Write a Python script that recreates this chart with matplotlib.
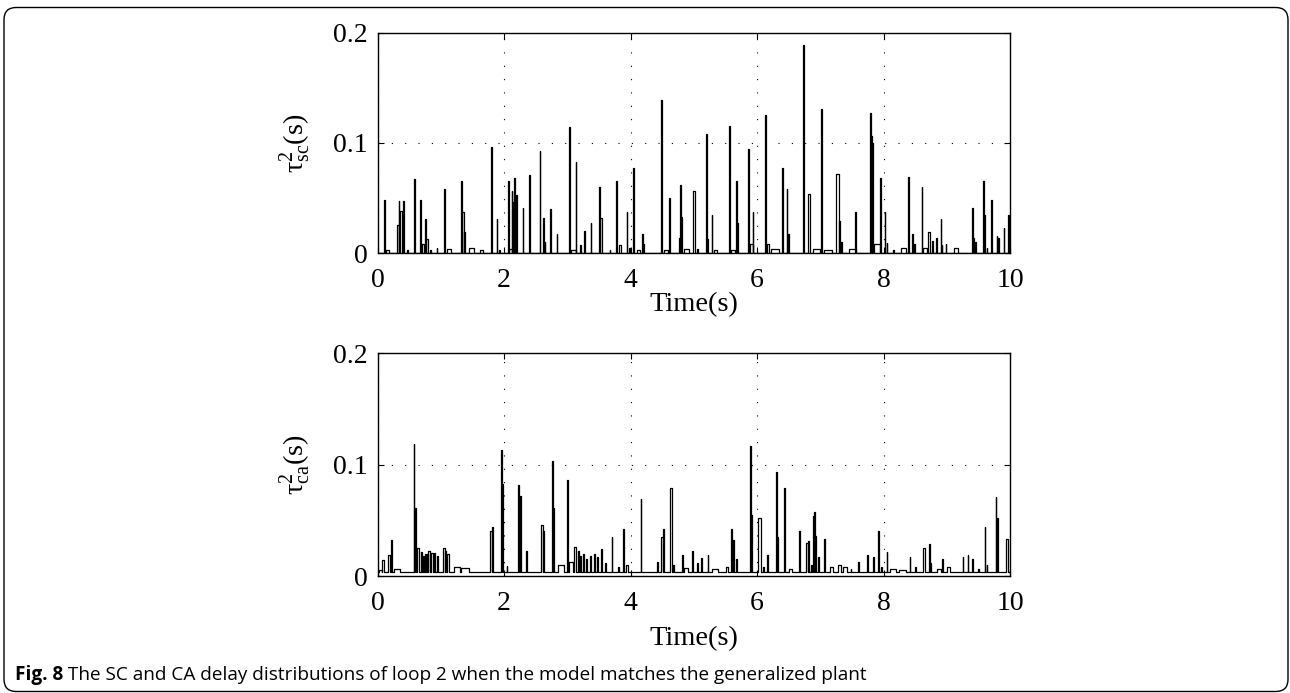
import matplotlib
matplotlib.use("Agg")
import matplotlib.pyplot as plt
from matplotlib.patches import FancyBboxPatch

# loop 2 delays: spike start time (s), height (s), duration (s)
sc_time = [0.10, 0.13, 0.30, 0.33, 0.36, 0.40, 0.47, 0.575, 0.67, 0.70, 0.75, 0.77, 0.82, 0.93,
           1.05, 1.10, 1.32, 1.34, 1.37, 1.45, 1.62, 1.79, 1.88, 1.92,
           2.06, 2.07, 2.12, 2.14, 2.16, 2.18, 2.29, 2.40, 2.56, 2.62, 2.64, 2.73, 2.83,
           3.03, 3.05, 3.13, 3.20, 3.27, 3.37, 3.50, 3.52, 3.67, 3.77, 3.82, 3.94, 3.98,
           4.04, 4.10, 4.18, 4.20, 4.48, 4.53, 4.61, 4.76, 4.78, 4.80, 4.85, 4.99,
           5.05, 5.19, 5.21, 5.28, 5.32, 5.56, 5.58, 5.66, 5.68, 5.86, 5.88, 5.93,
           6.13, 6.16, 6.22, 6.40, 6.47, 6.49, 6.73, 6.81, 6.88,
           7.01, 7.06, 7.25, 7.30, 7.33, 7.45, 7.55, 7.79, 7.80, 7.82, 7.85, 7.95,
           8.02, 8.05, 8.15, 8.28, 8.39, 8.45, 8.48, 8.60, 8.63, 8.70, 8.77, 8.83, 8.90, 8.92, 8.98,
           9.12, 9.40, 9.42, 9.45, 9.57, 9.59, 9.63, 9.70, 9.79, 9.81, 9.90, 9.97]
sc_delay = [0.048, 0.003, 0.025, 0.047, 0.038, 0.047, 0.003, 0.067, 0.048, 0.008, 0.031, 0.013, 0.003, 0.005,
            0.058, 0.004, 0.065, 0.037, 0.019, 0.005, 0.003, 0.096, 0.031, 0.003,
            0.065, 0.004, 0.056, 0.046, 0.068, 0.053, 0.041, 0.071, 0.0925, 0.032, 0.010, 0.040, 0.017,
            0.114, 0.003, 0.083, 0.007, 0.020, 0.027, 0.060, 0.032, 0.003, 0.065, 0.007, 0.037, 0.005,
            0.077, 0.003, 0.017, 0.008, 0.139, 0.003, 0.050, 0.014, 0.062, 0.033, 0.004, 0.056,
            0.004, 0.108, 0.013, 0.0345, 0.003, 0.1155, 0.003, 0.065, 0.027, 0.094, 0.008, 0.037,
            0.125, 0.008, 0.004, 0.077, 0.058, 0.017, 0.189, 0.0535, 0.004,
            0.131, 0.003, 0.0715, 0.029, 0.010, 0.004, 0.037, 0.127, 0.106, 0.100, 0.008, 0.068,
            0.037, 0.009, 0.003, 0.005, 0.069, 0.017, 0.008, 0.060, 0.005, 0.0195, 0.011, 0.014, 0.031, 0.007, 0.008,
            0.005, 0.041, 0.014, 0.010, 0.065, 0.0345, 0.005, 0.048, 0.0155, 0.014, 0.023, 0.0345]
sc_dur = [0.01, 0.05, 0.03, 0.01, 0.02, 0.01, 0.01, 0.01, 0.01, 0.03, 0.01, 0.02, 0.03, 0.01,
          0.01, 0.06, 0.01, 0.02, 0.01, 0.08, 0.05, 0.01, 0.01, 0.01,
          0.01, 0.05, 0.01, 0.01, 0.01, 0.02, 0.01, 0.01, 0.01, 0.01, 0.01, 0.01, 0.01,
          0.01, 0.08, 0.01, 0.01, 0.01, 0.01, 0.01, 0.02, 0.01, 0.01, 0.03, 0.01, 0.01,
          0.01, 0.04, 0.01, 0.01, 0.01, 0.06, 0.015, 0.02, 0.01, 0.015, 0.08, 0.02,
          0.01, 0.01, 0.01, 0.01, 0.05, 0.01, 0.07, 0.015, 0.01, 0.01, 0.06, 0.01,
          0.01, 0.03, 0.12, 0.01, 0.01, 0.01, 0.01, 0.03, 0.12,
          0.01, 0.12, 0.04, 0.01, 0.01, 0.12, 0.01, 0.01, 0.015, 0.01, 0.09, 0.01,
          0.01, 0.01, 0.01, 0.07, 0.01, 0.01, 0.01, 0.01, 0.05, 0.03, 0.01, 0.01, 0.01, 0.01, 0.01,
          0.05, 0.01, 0.01, 0.01, 0.01, 0.01, 0.01, 0.01, 0.01, 0.01, 0.01, 0.02]

ca_time = [0.02, 0.07, 0.17, 0.21, 0.25, 0.57, 0.59, 0.62, 0.69, 0.72, 0.75, 0.78, 0.80, 0.85, 0.89, 0.93,
           1.04, 1.07, 1.10, 1.20, 1.32, 1.78, 1.81, 1.95, 1.96,
           2.04, 2.22, 2.25, 2.34, 2.59, 2.62, 2.76, 2.77, 2.85,
           3.00, 3.03, 3.10, 3.16, 3.20, 3.25, 3.30, 3.36, 3.42, 3.47, 3.53, 3.60, 3.70, 3.80, 3.88, 3.92,
           4.16, 4.42, 4.48, 4.51, 4.62, 4.67, 4.81, 4.85, 4.97,
           5.05, 5.12, 5.22, 5.28, 5.50, 5.59, 5.62, 5.66, 5.89, 5.90,
           6.02, 6.10, 6.16, 6.30, 6.31, 6.43, 6.50, 6.67, 6.78, 6.81, 6.85, 6.88, 6.90, 6.92, 6.97,
           7.05, 7.15, 7.28, 7.36, 7.48, 7.60, 7.74, 7.84, 7.91, 7.96,
           8.05, 8.10, 8.25, 8.41, 8.50, 8.63, 8.72, 8.74, 8.85, 8.93,
           9.00, 9.25, 9.33, 9.40, 9.50, 9.60, 9.63, 9.77, 9.79, 9.93]
ca_delay = [0.005, 0.0143, 0.019, 0.032, 0.006, 0.118, 0.0607, 0.0248, 0.0218, 0.018, 0.020, 0.020, 0.022, 0.021, 0.021, 0.018,
            0.025, 0.022, 0.020, 0.008, 0.007, 0.0406, 0.044, 0.113, 0.0825,
            0.009, 0.0816, 0.072, 0.022, 0.0457, 0.040, 0.103, 0.061, 0.010,
            0.086, 0.013, 0.026, 0.022, 0.018, 0.020, 0.015, 0.018, 0.020, 0.017, 0.024, 0.012, 0.0347, 0.008, 0.042, 0.010,
            0.0688, 0.013, 0.0347, 0.042, 0.0786, 0.010, 0.019, 0.007, 0.0227,
            0.012, 0.016, 0.019, 0.006, 0.008, 0.042, 0.032, 0.0155, 0.1166, 0.055,
            0.0517, 0.008, 0.019, 0.0936, 0.035, 0.0786, 0.006, 0.040, 0.030, 0.031, 0.010, 0.054, 0.057, 0.036, 0.017,
            0.033, 0.008, 0.010, 0.008, 0.006, 0.0125, 0.019, 0.017, 0.040, 0.008,
            0.0215, 0.006, 0.005, 0.017, 0.008, 0.025, 0.0287, 0.012, 0.006, 0.0155,
            0.008, 0.017, 0.019, 0.0155, 0.006, 0.0437, 0.010, 0.0706, 0.052, 0.033]
ca_dur = [0.05, 0.03, 0.03, 0.01, 0.10, 0.01, 0.02, 0.03, 0.015, 0.015, 0.015, 0.01, 0.02, 0.02, 0.01, 0.03,
          0.02, 0.01, 0.02, 0.10, 0.12, 0.03, 0.01, 0.01, 0.02,
          0.01, 0.02, 0.02, 0.02, 0.02, 0.015, 0.01, 0.02, 0.10,
          0.01, 0.06, 0.04, 0.02, 0.01, 0.01, 0.01, 0.01, 0.01, 0.01, 0.01, 0.01, 0.01, 0.01, 0.01, 0.04,
          0.01, 0.01, 0.03, 0.01, 0.03, 0.01, 0.01, 0.06, 0.02,
          0.01, 0.01, 0.01, 0.10, 0.04, 0.02, 0.02, 0.02, 0.01, 0.02,
          0.04, 0.01, 0.01, 0.01, 0.02, 0.015, 0.05, 0.01, 0.02, 0.01, 0.01, 0.015, 0.01, 0.01, 0.01,
          0.02, 0.05, 0.05, 0.06, 0.01, 0.01, 0.01, 0.01, 0.01, 0.01,
          0.01, 0.10, 0.10, 0.01, 0.01, 0.03, 0.01, 0.01, 0.05, 0.01,
          0.05, 0.01, 0.01, 0.01, 0.01, 0.01, 0.01, 0.01, 0.02, 0.03]

sc_base = 0.0
ca_base = 0.004
t_end = 10.0

caption_bold = "Fig. 8"
caption_text = " The SC and CA delay distributions of loop 2 when the model matches the generalized plant"


def trace(times, heights, durs, base):
    # piecewise-constant signal: flat at base with rectangular bursts
    x = [0.0]
    y = [base]
    for t, h, d in sorted(zip(times, heights, durs)):
        x += [t, t, t + d, t + d]
        y += [base, h, h, base]
    x.append(t_end)
    y.append(base)
    return x, y


plt.rcParams['font.family'] = ['Liberation Serif', 'DejaVu Serif']
plt.rcParams['mathtext.fontset'] = 'custom'
plt.rcParams['mathtext.rm'] = 'Liberation Serif'
plt.rcParams['mathtext.it'] = 'Liberation Serif:italic'

fig = plt.figure(figsize=(12.9, 6.93), dpi=100)

ax1 = fig.add_axes([0.2928, 0.6349, 0.4902, 0.3182])
ax2 = fig.add_axes([0.2928, 0.1688, 0.4902, 0.3218])

panels = [(ax1, trace(sc_time, sc_delay, sc_dur, sc_base), r'$\mathrm{\tau^{2}_{sc}}$(s)', -1),
          (ax2, trace(ca_time, ca_delay, ca_dur, ca_base), r'$\mathrm{\tau^{2}_{ca}}$(s)', 7)]

for ax, (x, y), lab, xpad in panels:
    ax.plot(x, y, color='black', lw=0.9)
    ax.set_xlim(0, 10)
    ax.set_ylim(0, 0.2)
    ax.set_xticks([0, 2, 4, 6, 8, 10])
    ax.set_yticks([0, 0.1, 0.2])
    ax.set_yticklabels(['0', '0.1', '0.2'])
    ax.grid(True, color='black', linestyle=(0, (1, 11)), linewidth=0.8)
    ax.tick_params(direction='in', length=4, width=0.8, top=True, right=True,
                   labelsize=20)
    ax.tick_params(axis='x', pad=11)
    ax.tick_params(axis='y', pad=7)
    for s in ax.spines.values():
        s.set_linewidth(1.0)
    ax.set_xlabel('Time(s)', fontsize=20.5, labelpad=xpad)
    ax.set_ylabel(lab, fontsize=20.5, labelpad=15)

# rounded frame around the whole figure
frame = FancyBboxPatch((4 / 1290, 1.5 / 693), 1284 / 1290, 684 / 693,
                       boxstyle="round,pad=0,rounding_size=0.0095",
                       mutation_aspect=1290 / 693,
                       transform=fig.transFigure, fill=False,
                       edgecolor='black', linewidth=1.0)
fig.patches.append(frame)

cap_y = 1 - 680 / 693
t1 = fig.text(15 / 1290, cap_y, caption_bold, fontsize=13.7, fontweight='bold',
              family=['Open Sans', 'DejaVu Sans'], va='baseline')
fig.canvas.draw()
bb = t1.get_window_extent()
fig.text(bb.x1 / fig.bbox.width, cap_y, caption_text, fontsize=13.7,
         family=['Open Sans', 'DejaVu Sans'], va='baseline')

fig.savefig('out.png', dpi=100)
